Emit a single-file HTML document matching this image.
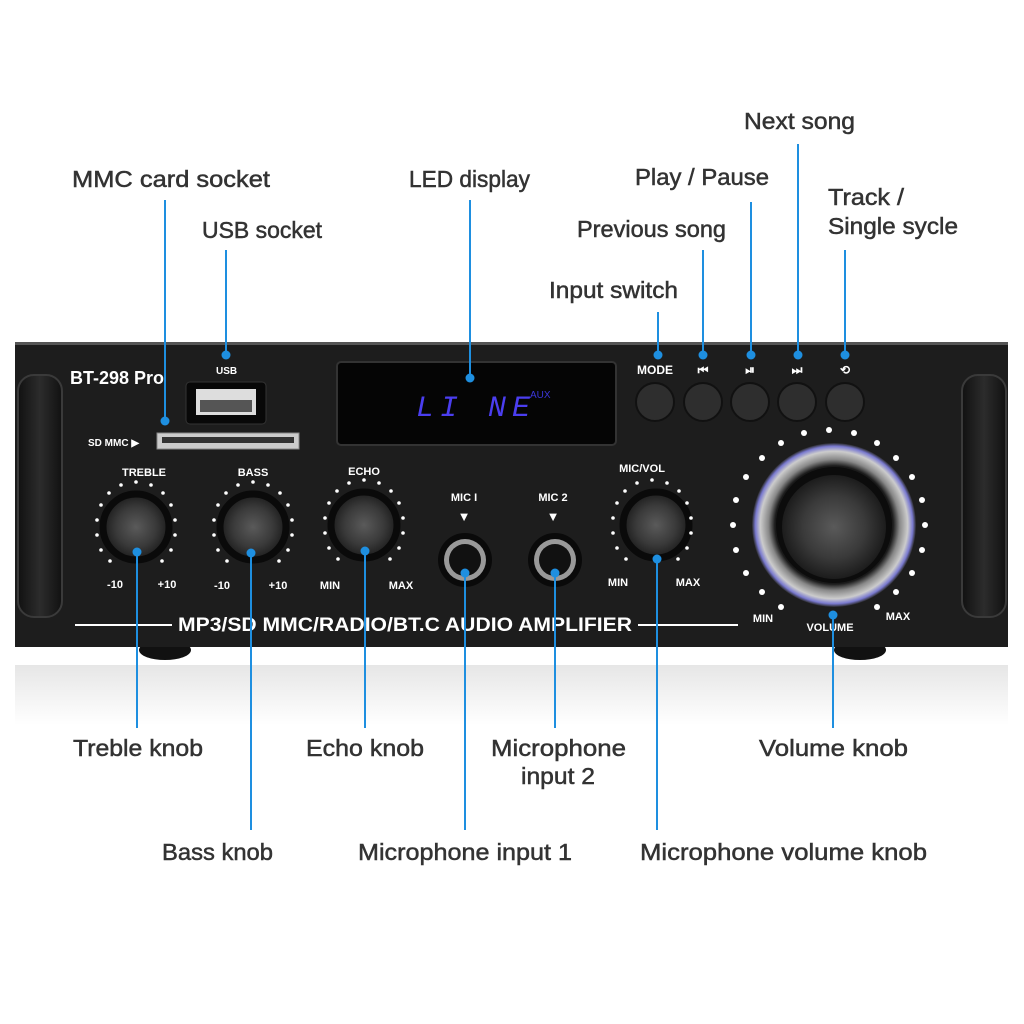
<!DOCTYPE html>
<html><head><meta charset="utf-8"><style>
html,body{margin:0;padding:0;background:#fff;width:1024px;height:1024px;overflow:hidden}
svg{display:block}
.l{font-family:"Liberation Sans",sans-serif;font-size:23px;fill:#333;stroke:#333;stroke-width:0.5}
.w{font-family:"Liberation Sans",sans-serif;fill:#fff;font-weight:bold}
</style></head><body>
<svg width="1024" height="1024" viewBox="0 0 1024 1024" xmlns="http://www.w3.org/2000/svg">
<defs>
<radialGradient id="kn" cx="50%" cy="50%" r="50%">
<stop offset="0" stop-color="#5a5a5a"/><stop offset="0.6" stop-color="#3a3a3a"/><stop offset="1" stop-color="#1c1c1c"/></radialGradient>
<linearGradient id="refl" x1="0" y1="0" x2="0" y2="1"><stop offset="0" stop-color="#e6e6e6"/><stop offset="1" stop-color="#fff"/></linearGradient>
<radialGradient id="ring" cx="50%" cy="50%" r="50%"><stop offset="0.72" stop-color="#1a1a1a"/><stop offset="0.8" stop-color="#888"/><stop offset="0.9" stop-color="#ccc"/><stop offset="0.96" stop-color="#7a7ad0"/><stop offset="1" stop-color="#2a2a2a"/></radialGradient>
<linearGradient id="hd" x1="0" y1="0" x2="1" y2="0"><stop offset="0" stop-color="#111"/><stop offset="0.5" stop-color="#2c2c2c"/><stop offset="1" stop-color="#111"/></linearGradient>
</defs>
<rect x="15" y="665" width="993" height="60" fill="url(#refl)"/>
<ellipse cx="165" cy="650" rx="26" ry="10" fill="#111"/>
<ellipse cx="860" cy="650" rx="26" ry="10" fill="#111"/>
<rect x="15" y="342" width="993" height="305" fill="#1d1d1d"/>
<rect x="15" y="342" width="993" height="3" fill="#555"/>
<rect x="18" y="375" width="44" height="242" rx="16" fill="url(#hd)" stroke="#3a3a3a" stroke-width="2"/>
<rect x="962" y="375" width="44" height="242" rx="16" fill="url(#hd)" stroke="#3a3a3a" stroke-width="2"/>
<text x="70" y="384" class="w" font-size="18" font-weight="normal">BT-298 Pro</text>
<text x="216" y="374" class="w" font-size="10">USB</text>
<rect x="186" y="382" width="80" height="42" rx="4" fill="#080808" stroke="#333"/>
<rect x="196" y="389" width="60" height="26" fill="#ddd"/>
<rect x="200" y="400" width="52" height="12" fill="#555"/>
<text x="88" y="446" class="w" font-size="10">SD MMC ▶</text>
<rect x="157" y="433" width="142" height="16" fill="#ccc" stroke="#888"/>
<rect x="162" y="437" width="132" height="6" fill="#333"/>
<rect x="337" y="362" width="279" height="83" rx="4" fill="#050505" stroke="#333" stroke-width="2"/>
<text x="416" y="416" font-family="Liberation Mono,monospace" font-size="30" fill="#4b3ef0" font-style="italic" letter-spacing="6">LI NE</text>
<text x="530" y="398" font-family="Liberation Sans,sans-serif" font-size="10" fill="#3b36d8">AUX</text>
<g class="w" font-size="12" text-anchor="middle">
<text x="655" y="374">MODE</text><text x="703" y="374">⏮</text><text x="750" y="374">⏯</text><text x="797" y="374">⏭</text><text x="845" y="374">⟲</text></g>
<g fill="#2e2e2e" stroke="#111" stroke-width="2">
<circle cx="655" cy="402" r="19"/><circle cx="703" cy="402" r="19"/><circle cx="750" cy="402" r="19"/><circle cx="797" cy="402" r="19"/><circle cx="845" cy="402" r="19"/></g>
<g class="w" font-size="11" text-anchor="middle">
<text x="144" y="476">TREBLE</text><text x="253" y="476">BASS</text><text x="364" y="475">ECHO</text><text x="642" y="472">MIC/VOL</text>
<text x="115" y="588">-10</text><text x="167" y="588">+10</text><text x="222" y="589">-10</text><text x="278" y="589">+10</text>
<text x="330" y="589">MIN</text><text x="401" y="589">MAX</text><text x="618" y="586">MIN</text><text x="688" y="586">MAX</text>
<text x="464" y="501">MIC I</text><text x="553" y="501">MIC 2</text>
<text x="464" y="521" font-size="13">▼</text><text x="553" y="521" font-size="13">▼</text>
<text x="763" y="622">MIN</text><text x="830" y="631">VOLUME</text><text x="898" y="620">MAX</text>
</g>
<g stroke="#0a0a0a" stroke-width="7" fill="url(#kn)">
<circle cx="136" cy="527" r="33"/><circle cx="253" cy="527" r="33"/><circle cx="364" cy="525" r="33"/><circle cx="656" cy="525" r="33"/>
</g>
<g><circle cx="465" cy="560" r="27" fill="#0a0a0a"/><circle cx="465" cy="560" r="21" fill="#999"/><circle cx="465" cy="560" r="16" fill="#111"/>
<circle cx="555" cy="560" r="27" fill="#0a0a0a"/><circle cx="555" cy="560" r="21" fill="#999"/><circle cx="555" cy="560" r="16" fill="#111"/></g>
<circle cx="834" cy="525" r="82" fill="url(#ring)"/>
<circle cx="834" cy="525" r="58" fill="#0c0c0c"/>
<circle cx="834" cy="527" r="52" fill="url(#kn)"/>
<rect x="75" y="624" width="97" height="2" fill="#fff"/><rect x="638" y="624" width="100" height="2" fill="#fff"/>
<text x="405" y="631" class="w" font-size="19" font-weight="normal" text-anchor="middle" textLength="454" lengthAdjust="spacingAndGlyphs">MP3/SD MMC/RADIO/BT.C AUDIO AMPLIFIER</text>
<g stroke="#1e8fe0" stroke-width="2">
<line x1="165" y1="200" x2="165" y2="421"/><line x1="226" y1="250" x2="226" y2="355"/><line x1="470" y1="200" x2="470" y2="378"/>
<line x1="658" y1="312" x2="658" y2="355"/><line x1="703" y1="250" x2="703" y2="355"/><line x1="751" y1="202" x2="751" y2="355"/>
<line x1="798" y1="144" x2="798" y2="355"/><line x1="845" y1="250" x2="845" y2="355"/>
<line x1="137" y1="552" x2="137" y2="728"/><line x1="251" y1="553" x2="251" y2="830"/><line x1="365" y1="551" x2="365" y2="728"/>
<line x1="465" y1="573" x2="465" y2="830"/><line x1="555" y1="573" x2="555" y2="728"/><line x1="657" y1="559" x2="657" y2="830"/>
<line x1="833" y1="615" x2="833" y2="728"/>
</g>
<g fill="#1e8fe0">
<circle cx="165" cy="421" r="4.5"/><circle cx="226" cy="355" r="4.5"/><circle cx="470" cy="378" r="4.5"/>
<circle cx="658" cy="355" r="4.5"/><circle cx="703" cy="355" r="4.5"/><circle cx="751" cy="355" r="4.5"/><circle cx="798" cy="355" r="4.5"/><circle cx="845" cy="355" r="4.5"/>
<circle cx="137" cy="552" r="4.5"/><circle cx="251" cy="553" r="4.5"/><circle cx="365" cy="551" r="4.5"/><circle cx="465" cy="573" r="4.5"/><circle cx="555" cy="573" r="4.5"/><circle cx="657" cy="559" r="4.5"/><circle cx="833" cy="615" r="4.5"/>
</g>
<g class="l">
<text x="72" y="187" textLength="198" lengthAdjust="spacingAndGlyphs">MMC card socket</text>
<text x="202" y="238" textLength="120" lengthAdjust="spacingAndGlyphs">USB socket</text>
<text x="409" y="187" textLength="121" lengthAdjust="spacingAndGlyphs">LED display</text>
<text x="744" y="129" textLength="111" lengthAdjust="spacingAndGlyphs">Next song</text>
<text x="635" y="185" textLength="134" lengthAdjust="spacingAndGlyphs">Play / Pause</text>
<text x="577" y="237" textLength="149" lengthAdjust="spacingAndGlyphs">Previous song</text>
<text x="549" y="298" textLength="129" lengthAdjust="spacingAndGlyphs">Input switch</text>
<text x="828" y="205" textLength="76" lengthAdjust="spacingAndGlyphs">Track /</text>
<text x="828" y="234" textLength="130" lengthAdjust="spacingAndGlyphs">Single sycle</text>
<text x="73" y="756" textLength="130" lengthAdjust="spacingAndGlyphs">Treble knob</text>
<text x="306" y="756" textLength="118" lengthAdjust="spacingAndGlyphs">Echo knob</text>
<text x="491" y="756" textLength="135" lengthAdjust="spacingAndGlyphs">Microphone</text>
<text x="521" y="784" textLength="74" lengthAdjust="spacingAndGlyphs">input 2</text>
<text x="759" y="756" textLength="149" lengthAdjust="spacingAndGlyphs">Volume knob</text>
<text x="162" y="860" textLength="111" lengthAdjust="spacingAndGlyphs">Bass knob</text>
<text x="358" y="860" textLength="214" lengthAdjust="spacingAndGlyphs">Microphone input 1</text>
<text x="640" y="860" textLength="287" lengthAdjust="spacingAndGlyphs">Microphone volume knob</text>
</g>
<g fill="#fff">
<circle cx="136" cy="482" r="1.8"/><circle cx="121" cy="485" r="1.8"/><circle cx="151" cy="485" r="1.8"/><circle cx="109" cy="493" r="1.8"/><circle cx="163" cy="493" r="1.8"/><circle cx="101" cy="505" r="1.8"/><circle cx="171" cy="505" r="1.8"/><circle cx="97" cy="520" r="1.8"/><circle cx="175" cy="520" r="1.8"/><circle cx="97" cy="535" r="1.8"/><circle cx="175" cy="535" r="1.8"/><circle cx="101" cy="550" r="1.8"/><circle cx="171" cy="550" r="1.8"/><circle cx="110" cy="561" r="1.8"/><circle cx="162" cy="561" r="1.8"/>
<circle cx="253" cy="482" r="1.8"/><circle cx="238" cy="485" r="1.8"/><circle cx="268" cy="485" r="1.8"/><circle cx="226" cy="493" r="1.8"/><circle cx="280" cy="493" r="1.8"/><circle cx="218" cy="505" r="1.8"/><circle cx="288" cy="505" r="1.8"/><circle cx="214" cy="520" r="1.8"/><circle cx="292" cy="520" r="1.8"/><circle cx="214" cy="535" r="1.8"/><circle cx="292" cy="535" r="1.8"/><circle cx="218" cy="550" r="1.8"/><circle cx="288" cy="550" r="1.8"/><circle cx="227" cy="561" r="1.8"/><circle cx="279" cy="561" r="1.8"/>
<circle cx="364" cy="480" r="1.8"/><circle cx="349" cy="483" r="1.8"/><circle cx="379" cy="483" r="1.8"/><circle cx="337" cy="491" r="1.8"/><circle cx="391" cy="491" r="1.8"/><circle cx="329" cy="503" r="1.8"/><circle cx="399" cy="503" r="1.8"/><circle cx="325" cy="518" r="1.8"/><circle cx="403" cy="518" r="1.8"/><circle cx="325" cy="533" r="1.8"/><circle cx="403" cy="533" r="1.8"/><circle cx="329" cy="548" r="1.8"/><circle cx="399" cy="548" r="1.8"/><circle cx="338" cy="559" r="1.8"/><circle cx="390" cy="559" r="1.8"/>
<circle cx="652" cy="480" r="1.8"/><circle cx="637" cy="483" r="1.8"/><circle cx="667" cy="483" r="1.8"/><circle cx="625" cy="491" r="1.8"/><circle cx="679" cy="491" r="1.8"/><circle cx="617" cy="503" r="1.8"/><circle cx="687" cy="503" r="1.8"/><circle cx="613" cy="518" r="1.8"/><circle cx="691" cy="518" r="1.8"/><circle cx="613" cy="533" r="1.8"/><circle cx="691" cy="533" r="1.8"/><circle cx="617" cy="548" r="1.8"/><circle cx="687" cy="548" r="1.8"/><circle cx="626" cy="559" r="1.8"/><circle cx="678" cy="559" r="1.8"/>
<circle cx="829" cy="430" r="3"/><circle cx="804" cy="433" r="3"/><circle cx="854" cy="433" r="3"/><circle cx="781" cy="443" r="3"/><circle cx="877" cy="443" r="3"/><circle cx="762" cy="458" r="3"/><circle cx="896" cy="458" r="3"/><circle cx="746" cy="477" r="3"/><circle cx="912" cy="477" r="3"/><circle cx="736" cy="500" r="3"/><circle cx="922" cy="500" r="3"/><circle cx="733" cy="525" r="3"/><circle cx="925" cy="525" r="3"/><circle cx="736" cy="550" r="3"/><circle cx="922" cy="550" r="3"/><circle cx="746" cy="573" r="3"/><circle cx="912" cy="573" r="3"/><circle cx="762" cy="592" r="3"/><circle cx="896" cy="592" r="3"/><circle cx="781" cy="607" r="3"/><circle cx="877" cy="607" r="3"/>
</g>
</svg>
</body></html>
